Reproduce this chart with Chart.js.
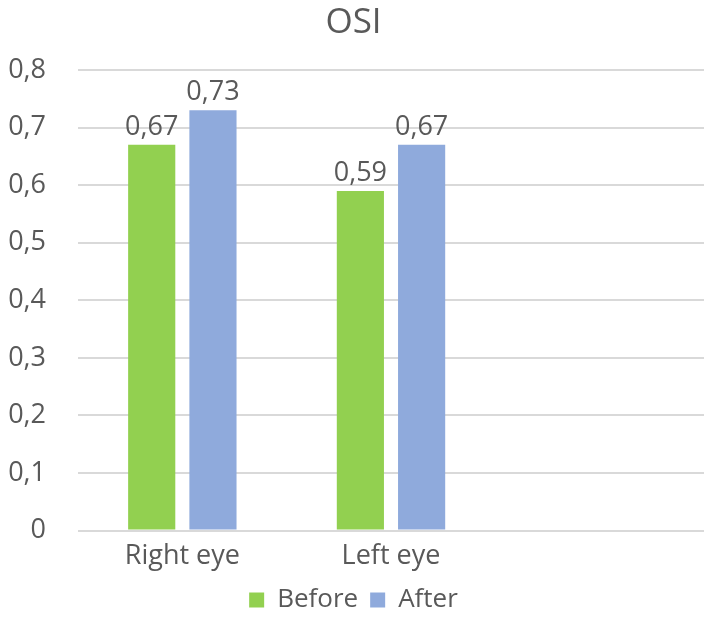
<!DOCTYPE html>
<html>
<head>
<meta charset="utf-8">
<script src="https://cdn.jsdelivr.net/npm/chart.js@4"></script>
<style>
  html, body { margin: 0; padding: 0; background: #fff; }
  #wrap { width: 708px; height: 623px; }
</style>
</head>
<body>
<div id="wrap"><canvas id="osiChart" width="708" height="623"></canvas></div>
<script>
const categories = ['Right eye', 'Left eye', ''];
const beforeValues = [0.67, 0.59, null];
const afterValues = [0.73, 0.67, null];
const yTicks = [0, 0.1, 0.2, 0.3, 0.4, 0.5, 0.6, 0.7, 0.8];

const textColor = '#595959';
const fontFamily = '"Open Sans", sans-serif';

function commaNum(v, digits) {
    if (v === 0) return '0';
    return v.toFixed(digits).replace('.', ',');
}

// draws the value above each bar
const valueLabels = {
    id: 'valueLabels',
    afterDatasetsDraw(chart) {
        const ctx = chart.ctx;
        ctx.save();
        ctx.fillStyle = textColor;
        ctx.font = '27px ' + fontFamily;
        ctx.textAlign = 'center';
        ctx.textBaseline = 'bottom';
        chart.data.datasets.forEach((ds, di) => {
            const meta = chart.getDatasetMeta(di);
            meta.data.forEach((bar, i) => {
                const v = ds.data[i];
                if (v === null || v === undefined) return;
                ctx.fillText(commaNum(v, 2), bar.x, bar.y - 4);
            });
        });
        ctx.restore();
    }
};

const ctx = document.getElementById('osiChart').getContext('2d');
new Chart(ctx, {
    type: 'bar',
    data: {
        labels: categories,
        datasets: [
            { label: 'Before', data: beforeValues, backgroundColor: '#92d050' },
            { label: 'After', data: afterValues, backgroundColor: '#8faadc' }
        ]
    },
    options: {
        responsive: false,
        animation: false,
        layout: { padding: { left: 3, right: 4, top: 2, bottom: 0 } },
        datasets: {
            bar: { categoryPercentage: 0.587, barPercentage: 0.77 }
        },
        plugins: {
            title: {
                display: true,
                text: 'OSI',
                color: textColor,
                font: { family: fontFamily, size: 35, weight: 'normal' },
                padding: { top: 0, bottom: 26 }
            },
            legend: {
                position: 'bottom',
                labels: {
                    color: textColor,
                    font: { family: fontFamily, size: 26 },
                    boxWidth: 15,
                    boxHeight: 15,
                    padding: 12
                }
            },
            tooltip: { enabled: false }
        },
        scales: {
            x: {
                grid: { display: false },
                border: { display: false },
                ticks: {
                    color: textColor,
                    font: { family: fontFamily, size: 27 },
                    padding: 2
                }
            },
            y: {
                min: 0,
                max: 0.8,
                afterBuildTicks(axis) {
                    axis.ticks = yTicks.map(v => ({ value: v }));
                },
                afterFit(axis) {
                    axis.width = 75;
                },
                grid: { color: '#d9d9d9', lineWidth: 2, drawTicks: false },
                border: { display: false },
                ticks: {
                    color: textColor,
                    font: { family: fontFamily, size: 27 },
                    padding: 32,
                    callback: v => commaNum(v, 1)
                }
            }
        }
    },
    plugins: [valueLabels]
});
</script>
</body>
</html>
